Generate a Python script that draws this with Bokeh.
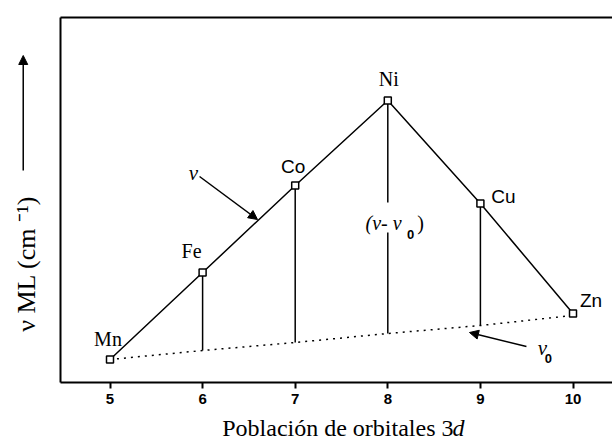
import math
from bokeh.plotting import figure
from bokeh.models import LinearAxis, FixedTicker, Label, Arrow, NormalHead
from bokeh.core.properties import value
from bokeh.embed import file_html
from bokeh.resources import INLINE

# ---- data ----
elements = ["Mn", "Fe", "Co", "Ni", "Cu", "Zn"]
d_pop = [5, 6, 7, 8, 9, 10]
nu = [23, 110, 197, 282, 179, 69]        # observed frequency (arbitrary units)
nu0 = [23, 32, 40, 49, 57, 67]           # baseline nu_0
tick_labels = ["5", "6", "7", "8", "9", "10"]

# label styling (offsets in screen pixels)
label_fonts = ["Liberation Serif", "Liberation Serif", "Liberation Sans",
               "Liberation Serif", "Liberation Sans", "Liberation Sans"]
label_sizes = ["20px", "20px", "19px", "20px", "19px", "19px"]
label_dx = [-2, -11, -2, 1, 23, 18]
label_dy = [-21, -22, -19, -22, -7, -13]

SERIF = "Liberation Serif"
SANS = "Liberation Sans"

# box (plot area) limits in data units
X_LEFT, X_RIGHT = 4.4654, 10.4265
Y_BOTTOM, Y_TOP = 0, 365

p = figure(width=612, height=443, x_range=(3.8175, 10.4265), y_range=(-61, 382),
           output_backend="svg", toolbar_location=None, title=None,
           min_border_left=0, min_border_right=0, min_border_top=0, min_border_bottom=0,
           x_axis_type=None, y_axis_type=None)
p.outline_line_color = None
p.background_fill_color = "white"
p.border_fill_color = "white"
p.xgrid.visible = False
p.ygrid.visible = False

bottom = LinearAxis(ticker=FixedTicker(ticks=d_pop), fixed_location=Y_BOTTOM,
                    bounds=(X_LEFT, X_RIGHT),
                    major_label_overrides={k: v for k, v in zip(d_pop, tick_labels)})
bottom.axis_line_width = 2
bottom.axis_line_color = "black"
bottom.major_tick_line_width = 2
bottom.major_tick_line_color = "black"
bottom.major_tick_out = 6
bottom.major_tick_in = 0
bottom.minor_tick_out = 0
bottom.minor_tick_in = 0
bottom.major_label_text_font = SANS
bottom.major_label_text_font_style = "bold"
bottom.major_label_text_font_size = "15px"
bottom.major_label_text_color = "black"
bottom.major_label_standoff = 5
p.add_layout(bottom, "below")

left = LinearAxis(ticker=FixedTicker(ticks=[]), fixed_location=X_LEFT, bounds=(Y_BOTTOM, Y_TOP))
top = LinearAxis(ticker=FixedTicker(ticks=[]), fixed_location=Y_TOP, bounds=(X_LEFT, X_RIGHT))
for ax, loc in ((left, "left"), (top, "above")):
    ax.axis_line_width = 2
    ax.axis_line_color = "black"
    ax.major_tick_out = 0
    ax.major_tick_in = 0
    ax.minor_tick_out = 0
    ax.minor_tick_in = 0
    ax.major_label_text_font_size = "0px"
    p.add_layout(ax, loc)

# main curve and baseline
p.line(d_pop, nu, line_color="black", line_width=1.5)
p.line(d_pop, nu0, line_color="black", line_width=1.5, line_dash="2 5")

# vertical (nu - nu0) segments; Ni segment interrupted by its label
gap_lo, gap_hi = 150, 180
for i in range(1, 5):
    if elements[i] == "Ni":
        p.segment(x0=[d_pop[i], d_pop[i]], y0=[nu0[i], gap_hi], x1=[d_pop[i], d_pop[i]],
                  y1=[gap_lo, nu[i]], line_color="black", line_width=1.5)
    else:
        p.segment(x0=[d_pop[i]], y0=[nu0[i]], x1=[d_pop[i]], y1=[nu[i]],
                  line_color="black", line_width=1.5)

p.scatter(d_pop, nu, marker="square", size=7, fill_color="white",
          line_color="black", line_width=1.5)

for i, el in enumerate(elements):
    p.text(x=[d_pop[i]], y=[nu[i]], text=[el], x_offset=label_dx[i], y_offset=label_dy[i],
           text_font=value(label_fonts[i]), text_font_size=label_sizes[i],
           text_align="center", text_baseline="middle", text_color="black")


def lab(x, y, t, size="20px", font=SERIF, style="normal", align="center",
        baseline="middle", angle=0.0):
    p.add_layout(Label(x=x, y=y, text=t, text_font=font, text_font_size=size,
                       text_font_style=style, text_align=align, text_baseline=baseline,
                       angle=angle, text_color="black"))


head = dict(size=9, fill_color="black", line_color="black")

# nu with arrow to the curve
lab(5.902, 210, "ν", size="21px", style="italic")
p.add_layout(Arrow(x_start=5.967, y_start=206, x_end=6.593, y_end=163, line_width=1.5,
                   end=NormalHead(**head)))

# (nu - nu0)
lab(7.759, 160, "(ν- ν", size="20px", style="italic", align="left")
lab(8.245, 148, "0", size="13px", font=SANS, style="bold")
lab(8.353, 160, ")", size="20px")

# nu0 with arrow to the baseline
lab(9.670, 35, "ν", size="21px", style="italic")
lab(9.735, 24, "0", size="13px", font=SANS, style="bold")
p.add_layout(Arrow(x_start=9.497, y_start=36, x_end=8.882, y_end=50, line_width=1.5,
                   end=NormalHead(**head)))

# axis titles
lab(4.098, 122, "ν ML  (cm ⁻¹)", size="26px", angle=math.pi / 2)
p.add_layout(Arrow(x_start=4.063, y_start=212, x_end=4.063, y_end=327, line_width=1.5,
                   end=NormalHead(**head)))
lab(8.7095, -45, "Población de orbitales 3", size="24px", align="right")
lab(8.699, -45, "d", size="24px", style="italic", align="left")

open("out.html", "w").write(file_html(p, INLINE))
